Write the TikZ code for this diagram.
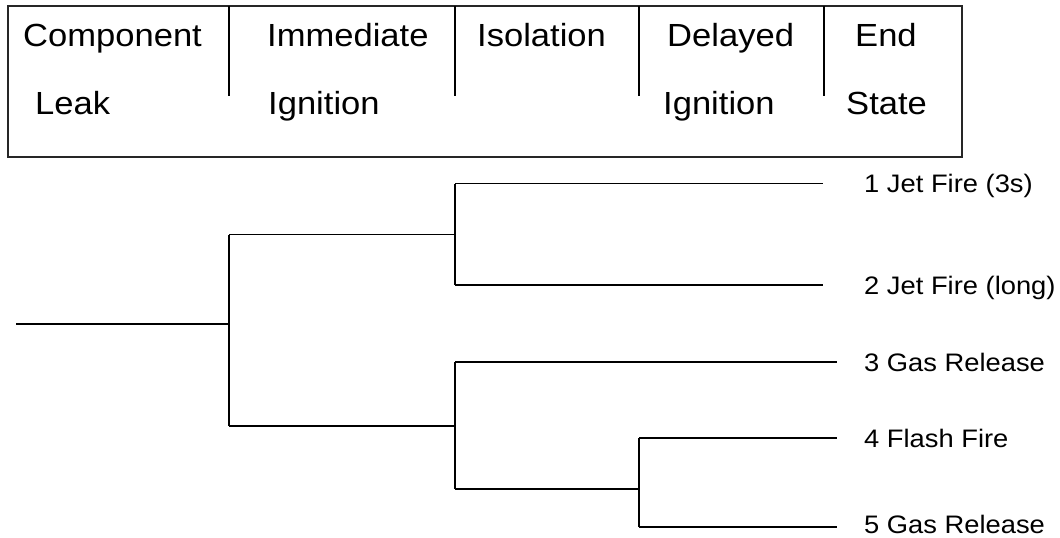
\documentclass[tikz,border=0pt]{standalone}
\usepackage{fontspec}
\setmainfont{Liberation Sans}[FakeStretch=1.08]
\begin{document}
\begin{tikzpicture}[x=1pt,y=-1pt,
  hdr/.style={anchor=base west, inner sep=0pt, font=\fontsize{32}{38}\selectfont},
  lbl/.style={anchor=base west, inner sep=0pt, font=\fontsize{25.3}{30}\selectfont},
  ln/.style={line width=1.3pt, black},
  boxln/.style={line width=1.5pt, black!85}]
\useasboundingbox (0,0) rectangle (1060,538);
% header box
\draw[boxln] (8,6) rectangle (962,157);
\coordinate (d1t) at (229,6);   \coordinate (d1b) at (229,96);
\coordinate (d2t) at (455,6);   \coordinate (d2b) at (455,96);
\coordinate (d3t) at (639,6);   \coordinate (d3b) at (639,96);
\coordinate (d4t) at (824,6);   \coordinate (d4b) at (824,96);
\draw[ln] (d1t) -- (d1b);
\draw[ln] (d2t) -- (d2b);
\draw[ln] (d3t) -- (d3b);
\draw[ln] (d4t) -- (d4b);
% header texts
\node[hdr] (h1a) at (23,46) {Component};
\node[hdr] (h1b) at (35,114.5) {Leak};
\node[hdr] (h2a) at (267,46) {Immediate};
\node[hdr] (h2b) at (268,114.5) {Ignition};
\node[hdr] (h3a) at (477,46) {Isolation};
\node[hdr] (h4a) at (667,46) {Delayed};
\node[hdr] (h4b) at (663,114.5) {Ignition};
\node[hdr] (h5a) at (855,46) {End};
\node[hdr] (h5b) at (846,114.5) {State};
% tree coordinates
\coordinate (r0) at (16,324);
\coordinate (r1) at (229,324);
\coordinate (a0) at (229,234.5);
\coordinate (a1) at (455,234.5);
\coordinate (b0) at (229,426);
\coordinate (b1) at (455,426);
\coordinate (e1a) at (455,183.5); \coordinate (e1b) at (823,183.5);
\coordinate (e2a) at (455,285);   \coordinate (e2b) at (823,285);
\coordinate (e3a) at (455,362);   \coordinate (e3b) at (837,362);
\coordinate (c0) at (455,489);
\coordinate (c1) at (639,489);
\coordinate (e4a) at (639,438);   \coordinate (e4b) at (837,438);
\coordinate (e5a) at (639,527);   \coordinate (e5b) at (837,527);
% tree lines
\draw[ln] (r0) -- (r1);
\draw[ln] (a0) -- (b0);
\draw[ln] (a0) -- (a1);
\draw[ln] (b0) -- (b1);
\draw[ln] (e1a) -- (e2a);
\draw[ln] (e1a) -- (e1b);
\draw[ln] (e2a) -- (e2b);
\draw[ln] (e3a) -- (c0);
\draw[ln] (e3a) -- (e3b);
\draw[ln] (c0) -- (c1);
\draw[ln] (e4a) -- (e5a);
\draw[ln] (e4a) -- (e4b);
\draw[ln] (e5a) -- (e5b);
% end state labels
\node[lbl] (s1) at (864,192.5) {1 Jet Fire (3s)};
\node[lbl] (s2) at (864,294) {2 Jet Fire (long)};
\node[lbl] (s3) at (864,371) {3 Gas Release};
\node[lbl] (s4) at (864,447) {4 Flash Fire};
\node[lbl] (s5) at (864,533) {5 Gas Release};
\end{tikzpicture}
\end{document}
